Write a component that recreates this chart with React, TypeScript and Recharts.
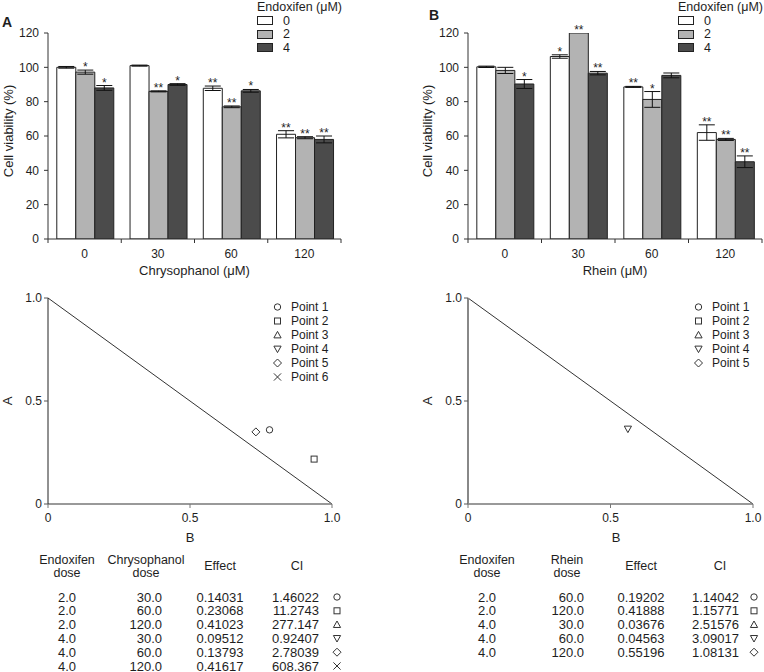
import React from 'react';
import {
  BarChart, Bar, XAxis, YAxis, ErrorBar, LabelList, Legend, Label,
  ScatterChart, Scatter, ReferenceLine,
} from 'recharts';

const FONT = '"Liberation Sans", Arial, Helvetica, sans-serif';
const INK = '#1e1e1e';
const AXIS = '#333333';

// ---------------- Bar chart data ----------------
const doseCategories = ['0', '30', '60', '120'];
const endoxifenLevels = ['0', '2', '4'];
const viabilityTicks = [0, 20, 40, 60, 80, 100, 120];
const barFills = ['#ffffff', '#b3b3b3', '#4b4b4b'];

// Panel A: Chrysophanol
const chrysoV0 = [100, 101, 87.8, 61];
const chrysoE0 = [0.5, 0.3, 1.3, 2.1];
const chrysoS0 = ['', '', '**', '**'];
const chrysoV2 = [97.2, 86, 77, 59];
const chrysoE2 = [1.2, 0.3, 0.5, 0.6];
const chrysoS2 = ['*', '**', '**', '**'];
const chrysoV4 = [88, 90, 86.3, 58];
const chrysoE4 = [1.4, 0.5, 0.8, 2];
const chrysoS4 = ['*', '*', '*', '**'];

// Panel B: Rhein
const rheinV0 = [100.3, 106.3, 88.6, 62];
const rheinE0 = [0.4, 1, 0.3, 4.5];
const rheinS0 = ['', '*', '**', '**'];
const rheinV2 = [98.2, 120, 81.3, 58];
const rheinE2 = [1.8, 0, 4.6, 0.6];
const rheinS2 = ['', '**', '*', '**'];
const rheinV4 = [90.3, 96.6, 95.3, 45];
const rheinE4 = [2.6, 1, 1.4, 3.4];
const rheinS4 = ['*', '**', '', '**'];

// ---------------- Isobologram data ----------------
const pointNamesA = ['Point 1', 'Point 2', 'Point 3', 'Point 4', 'Point 5', 'Point 6'];
const pointMarkersA = ['circle', 'square', 'triangle', 'triangleDown', 'diamond', 'cross'];
const isoBA: (number | null)[] = [0.78, 0.937, null, null, 0.732, null];
const isoAA: (number | null)[] = [0.36, 0.218, null, null, 0.35, null];

const pointNamesB = ['Point 1', 'Point 2', 'Point 3', 'Point 4', 'Point 5'];
const pointMarkersB = ['circle', 'square', 'triangle', 'triangleDown', 'diamond'];
const isoBB: (number | null)[] = [null, null, null, 0.561, null];
const isoAB: (number | null)[] = [null, null, null, 0.364, null];

const additivityLine = [{ x: 0, y: 1 }, { x: 1, y: 0 }];
const isoTicks = [0, 0.5, 1];

// ---------------- Table data ----------------
const tableEndoxA = ['2.0', '2.0', '2.0', '4.0', '4.0', '4.0'];
const tableDoseA = ['30.0', '60.0', '120.0', '30.0', '60.0', '120.0'];
const tableEffectA = ['0.14031', '0.23068', '0.41023', '0.09512', '0.13793', '0.41617'];
const tableCIA = ['1.46022', '11.2743', '277.147', '0.92407', '2.78039', '608.367'];

const tableEndoxB = ['2.0', '2.0', '4.0', '4.0', '4.0'];
const tableDoseB = ['60.0', '120.0', '30.0', '60.0', '120.0'];
const tableEffectB = ['0.19202', '0.41888', '0.03676', '0.04563', '0.55196'];
const tableCIB = ['1.14042', '1.15771', '2.51576', '3.09017', '1.08131'];

// ---------------- Helpers ----------------
const Y_MAX = 120;
const BAR_PLOT_TOP = 33;
const BAR_PLOT_BOTTOM = 239;
const PX_PER_UNIT = (BAR_PLOT_BOTTOM - BAR_PLOT_TOP) / Y_MAX;

function buildRows(vals: number[][], errs: number[][]) {
  return doseCategories.map((dose, i) => {
    const row: any = { dose };
    endoxifenLevels.forEach((_, j) => {
      row['v' + j] = vals[j][i];
      row['e' + j] = errs[j][i];
    });
    return row;
  });
}

function Marker({ kind, cx, cy, stroke = '#333' }: any) {
  const common = { fill: 'none', stroke, strokeWidth: 1 };
  const r = 3.6;
  switch (kind) {
    case 'circle':
      return <circle cx={cx} cy={cy} r={3.2} {...common} />;
    case 'square':
      return <rect x={cx - 3} y={cy - 3} width={6} height={6} {...common} />;
    case 'triangle':
      return <polygon points={`${cx},${cy - r} ${cx + r},${cy + r * 0.8} ${cx - r},${cy + r * 0.8}`} {...common} />;
    case 'triangleDown':
      return <polygon points={`${cx},${cy + r} ${cx + r},${cy - r * 0.8} ${cx - r},${cy - r * 0.8}`} {...common} />;
    case 'diamond':
      return <polygon points={`${cx},${cy - 4} ${cx + 4},${cy} ${cx},${cy + 4} ${cx - 4},${cy}`} {...common} />;
    case 'cross':
      return (
        <g {...common}>
          <line x1={cx - 3.6} y1={cy - 3.6} x2={cx + 3.6} y2={cy + 3.6} />
          <line x1={cx - 3.6} y1={cy + 3.6} x2={cx + 3.6} y2={cy - 3.6} />
        </g>
      );
    default:
      return null;
  }
}

function CategoryTick(props: any) {
  const { x, y, payload, index, lastIndex, band } = props;
  const half = payload && typeof payload.offset === 'number' && payload.offset > 0 ? payload.offset : band / 2;
  const axisY = y - 10;
  return (
    <g>
      <line x1={x - half} x2={x - half} y1={axisY} y2={axisY + 4} stroke={AXIS} />
      {index === lastIndex && <line x1={x + half} x2={x + half} y1={axisY} y2={axisY + 4} stroke={AXIS} />}
      <text x={x} y={y} dy="0.71em" textAnchor="middle" fontSize={12} fill={INK} fontFamily={FONT}>
        {payload.value}
      </text>
    </g>
  );
}

function makeSigLabel(sig: string[], errs: number[]) {
  return (props: any) => {
    const vb = props.viewBox || props;
    const idx = props.index;
    const s = sig[idx];
    if (!s) return null;
    const x = vb.x + vb.width / 2;
    const top = vb.y - errs[idx] * PX_PER_UNIT;
    return (
      <text x={x} y={top + 1} textAnchor="middle" fontSize={12} fill={INK} fontFamily={FONT}>
        {s}
      </text>
    );
  };
}

function BarLegend() {
  return (
    <div style={{ fontFamily: FONT, fontSize: 12.5, color: INK, lineHeight: '14px', whiteSpace: 'nowrap' }}>
      <div>Endoxifen (μM)</div>
      {endoxifenLevels.map((lv, i) => (
        <div key={lv} style={{ display: 'flex', alignItems: 'center', height: 13.6 }}>
          <span
            style={{
              display: 'inline-block', width: 16, height: 9, boxSizing: 'border-box',
              border: '1px solid #222', background: barFills[i], marginRight: 10,
            }}
          />
          <span>{lv}</span>
        </div>
      ))}
    </div>
  );
}

function ViabilityPanel(props: any) {
  const { left, width, yAxisWidth, marginRight, vals, errs, sigs, xLabel, xLabelX, yLabelX, legendLeft } = props;
  const rows = buildRows(vals, errs);
  const plotW = width - yAxisWidth - marginRight;
  return (
    <div style={{ position: 'absolute', left, top: 0 }}>
      <BarChart
        width={width}
        height={285}
        data={rows}
        margin={{ top: BAR_PLOT_TOP, right: marginRight, bottom: 0, left: 0 }}
        barCategoryGap="12%"
        barGap={0}
      >
        <XAxis
          dataKey="dose"
          height={46}
          interval={0}
          tickLine={false}
          tickSize={0}
          tickMargin={10}
          axisLine={{ stroke: AXIS }}
          tick={<CategoryTick lastIndex={doseCategories.length - 1} band={plotW / doseCategories.length} />}
        >
          <Label
            content={() => (
              <text x={xLabelX} y={270} textAnchor="middle" dominantBaseline="central" fontSize={13} fill={INK} fontFamily={FONT}>
                {xLabel}
              </text>
            )}
          />
        </XAxis>
        <YAxis
          width={yAxisWidth}
          domain={[0, Y_MAX]}
          ticks={viabilityTicks}
          allowDataOverflow
          tickSize={4}
          tickMargin={5}
          axisLine={{ stroke: AXIS }}
          tickLine={{ stroke: AXIS }}
          tick={{ fontSize: 12, fill: INK, fontFamily: FONT }}
        >
          <Label
            content={() => (
              <text
                x={yLabelX} y={131} transform={`rotate(-90 ${yLabelX} 131)`}
                textAnchor="middle" dominantBaseline="central" fontSize={13} fill={INK} fontFamily={FONT}
              >
                Cell viability (%)
              </text>
            )}
          />
        </YAxis>
        <Legend
          layout="vertical"
          align="center"
          verticalAlign="middle"
          wrapperStyle={{ left: legendLeft, top: 0, width: 120, height: 56, margin: 0 }}
          content={() => <BarLegend />}
        />
        {endoxifenLevels.map((lv, j) => (
          <Bar
            key={lv}
            dataKey={'v' + j}
            name={lv}
            fill={barFills[j]}
            stroke="#222"
            strokeWidth={1}
            isAnimationActive={false}
          >
            <ErrorBar dataKey={'e' + j} width={8} stroke="#111" strokeWidth={1} direction="y" />
            <LabelList dataKey={'v' + j} content={makeSigLabel(sigs[j], errs[j])} />
          </Bar>
        ))}
      </BarChart>
    </div>
  );
}

function IsoLegend({ names, markers }: any) {
  return (
    <div style={{ fontFamily: FONT, fontSize: 12, color: INK, lineHeight: '14px', whiteSpace: 'nowrap' }}>
      {names.map((n: string, i: number) => (
        <div key={n} style={{ display: 'flex', alignItems: 'center', height: 14 }}>
          <svg width={9} height={10} style={{ marginRight: 9.5, overflow: 'visible' }}>
            <Marker kind={markers[i]} cx={4.5} cy={5} />
          </svg>
          <span>{n}</span>
        </div>
      ))}
    </div>
  );
}

function IsoPanel(props: any) {
  const { left, width, yAxisWidth, marginRight, names, markers, bVals, aVals, legendLeft, yLabelX, xLabelX, yAxisStroke, yAxisStrokeWidth } = props;
  const fmt = (v: number) => (v === 0 ? '0' : v.toFixed(1));
  return (
    <div style={{ position: 'absolute', left, top: 285 }}>
      <ScatterChart width={width} height={265} margin={{ top: 13, right: marginRight, bottom: 0, left: 0 }}>
        <XAxis
          type="number"
          dataKey="x"
          domain={[0, 1]}
          ticks={isoTicks}
          tickFormatter={fmt}
          height={46}
          tickSize={4}
          tickMargin={5}
          axisLine={{ stroke: '#777', strokeWidth: 1.3 }}
          tickLine={{ stroke: '#777' }}
          tick={{ fontSize: 12, fill: INK, fontFamily: FONT }}
        >
          <Label
            content={() => (
              <text x={xLabelX} y={252} textAnchor="middle" dominantBaseline="central" fontSize={13} fill={INK} fontFamily={FONT}>
                B
              </text>
            )}
          />
        </XAxis>
        <YAxis
          type="number"
          dataKey="y"
          domain={[0, 1]}
          ticks={isoTicks}
          tickFormatter={fmt}
          width={yAxisWidth}
          tickSize={4}
          tickMargin={2}
          axisLine={{ stroke: yAxisStroke, strokeWidth: yAxisStrokeWidth }}
          tickLine={{ stroke: '#555' }}
          tick={{ fontSize: 12, fill: INK, fontFamily: FONT }}
        >
          <Label
            content={() => (
              <text
                x={yLabelX} y={116} transform={`rotate(-90 ${yLabelX} 116)`}
                textAnchor="middle" dominantBaseline="central" fontSize={13} fill={INK} fontFamily={FONT}
              >
                A
              </text>
            )}
          />
        </YAxis>
        <ReferenceLine segment={additivityLine} stroke="#333" strokeWidth={1} ifOverflow="visible" />
        {names.map((n: string, i: number) =>
          bVals[i] == null ? null : (
            <Scatter
              key={n}
              name={n}
              data={[{ x: bVals[i], y: aVals[i] }]}
              isAnimationActive={false}
              shape={(p: any) => <Marker kind={markers[i]} cx={p.cx} cy={p.cy} />}
            />
          )
        )}
        <Legend
          layout="vertical"
          align="center"
          verticalAlign="middle"
          wrapperStyle={{ left: legendLeft, top: 15, width: 90, height: 90, margin: 0 }}
          content={() => <IsoLegend names={names} markers={markers} />}
        />
      </ScatterChart>
    </div>
  );
}

function DoseTable(props: any) {
  const { left, doseHeader, endox, dose, effect, ci, markers, cols, headerX } = props;
  const rowY = (i: number) => 52 + i * 13.8;
  const txt = { fontSize: 13, fill: INK, fontFamily: FONT, dominantBaseline: 'central' as any };
  const hd = { fontSize: 12.5, fill: INK, fontFamily: FONT, dominantBaseline: 'central' as any, textAnchor: 'middle' as any };
  return (
    <svg style={{ position: 'absolute', left, top: 545 }} width={384} height={127}>
      <text x={headerX[0]} y={15} {...hd}>Endoxifen</text>
      <text x={headerX[0]} y={27.5} {...hd}>dose</text>
      <text x={headerX[1]} y={15} {...hd}>{doseHeader}</text>
      <text x={headerX[1]} y={27.5} {...hd}>dose</text>
      <text x={headerX[2]} y={21} {...hd}>Effect</text>
      <text x={headerX[3]} y={21} {...hd}>CI</text>
      {endox.map((e: string, i: number) => (
        <g key={i}>
          <text x={cols[0]} y={rowY(i)} textAnchor="middle" {...txt}>{e}</text>
          <text x={cols[1]} y={rowY(i)} textAnchor="end" {...txt}>{dose[i]}</text>
          <text x={cols[2]} y={rowY(i)} textAnchor="middle" {...txt}>{effect[i]}</text>
          <text x={cols[3]} y={rowY(i)} textAnchor="end" {...txt}>{ci[i]}</text>
          <Marker kind={markers[i]} cx={cols[4]} cy={rowY(i)} />
        </g>
      ))}
    </svg>
  );
}

export default function App() {
  return (
    <div style={{ position: 'absolute', left: 0, top: 0, width: 764, height: 672, background: '#fff', fontFamily: FONT, overflow: 'hidden' }}>
      <ViabilityPanel
        left={0}
        width={380}
        yAxisWidth={48}
        marginRight={39}
        vals={[chrysoV0, chrysoV2, chrysoV4]}
        errs={[chrysoE0, chrysoE2, chrysoE4]}
        sigs={[chrysoS0, chrysoS2, chrysoS4]}
        xLabel="Chrysophanol (μM)"
        xLabelX={194.5}
        yLabelX={8}
        legendLeft={257}
      />
      <ViabilityPanel
        left={380}
        width={384}
        yAxisWidth={88}
        marginRight={2}
        vals={[rheinV0, rheinV2, rheinV4]}
        errs={[rheinE0, rheinE2, rheinE4]}
        sigs={[rheinS0, rheinS2, rheinS4]}
        xLabel="Rhein (μM)"
        xLabelX={235}
        yLabelX={47}
        legendLeft={298}
      />
      <div style={{ position: 'absolute', left: 2, top: 14, fontWeight: 'bold', fontSize: 14, lineHeight: '16px', color: INK }}>A</div>
      <div style={{ position: 'absolute', left: 429, top: 7, fontWeight: 'bold', fontSize: 14, lineHeight: '16px', color: INK }}>B</div>

      <IsoPanel
        left={0}
        width={380}
        yAxisWidth={48}
        marginRight={48}
        names={pointNamesA}
        markers={pointMarkersA}
        bVals={isoBA}
        aVals={isoAA}
        legendLeft={272.5}
        yLabelX={7}
        xLabelX={190}
        yAxisStroke="#222"
        yAxisStrokeWidth={1}
      />
      <IsoPanel
        left={380}
        width={384}
        yAxisWidth={88}
        marginRight={11}
        names={pointNamesB}
        markers={pointMarkersB}
        bVals={isoBB}
        aVals={isoAB}
        legendLeft={313.5}
        yLabelX={47}
        xLabelX={236}
        yAxisStroke="#888"
        yAxisStrokeWidth={2}
      />

      <DoseTable
        left={0}
        doseHeader="Chrysophanol"
        endox={tableEndoxA}
        dose={tableDoseA}
        effect={tableEffectA}
        ci={tableCIA}
        markers={pointMarkersA}
        cols={[67, 162, 220, 319, 337]}
        headerX={[67, 146, 220, 297]}
      />
      <DoseTable
        left={380}
        doseHeader="Rhein"
        endox={tableEndoxB}
        dose={tableDoseB}
        effect={tableEffectB}
        ci={tableCIB}
        markers={pointMarkersB}
        cols={[107, 204, 261, 359, 374]}
        headerX={[107, 187, 261, 340]}
      />
    </div>
  );
}
